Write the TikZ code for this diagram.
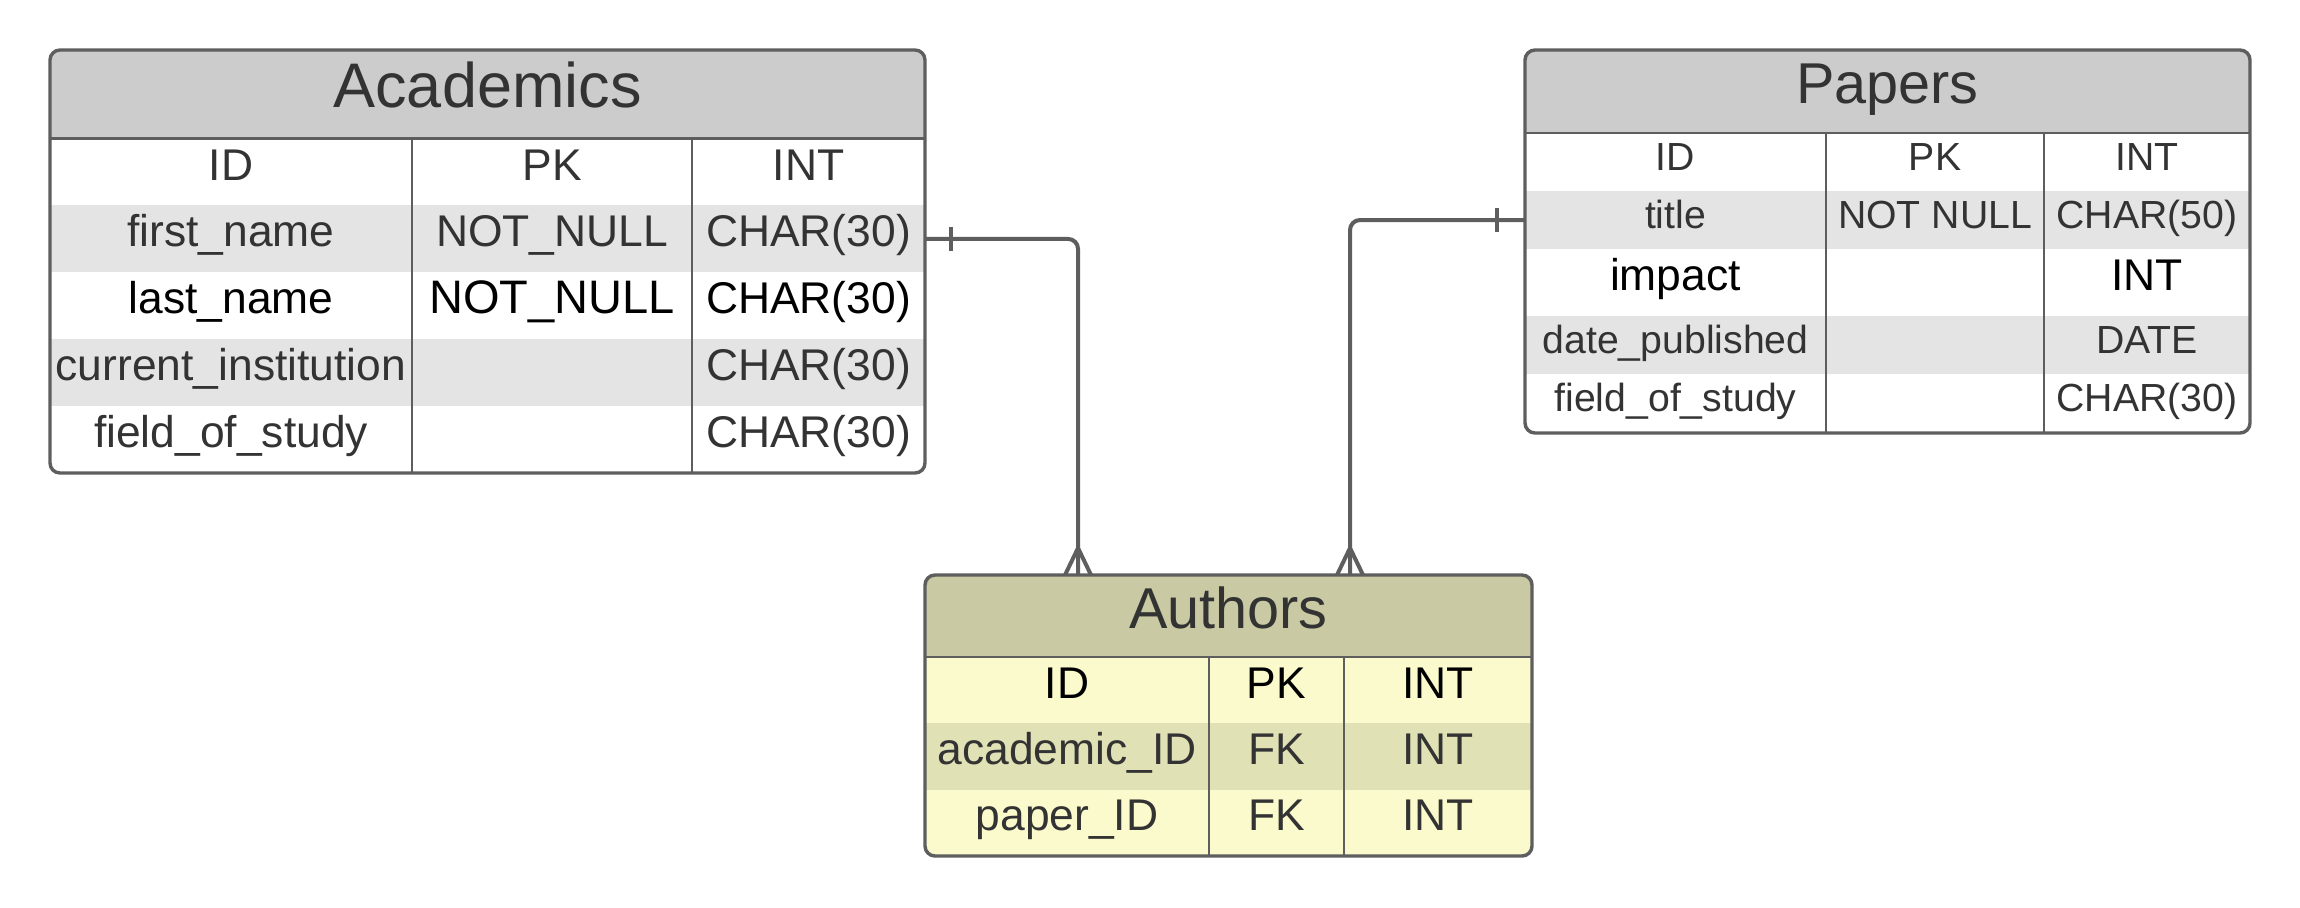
\documentclass[tikz,border=0pt]{standalone}
\usepackage{fontspec}
\setmainfont{Liberation Sans}
\usetikzlibrary{calc}

\definecolor{edge}{HTML}{5E5E5E}
\definecolor{ink}{HTML}{333333}
\definecolor{headgray}{HTML}{CCCCCC}
\definecolor{stripegray}{HTML}{E4E4E4}
\definecolor{headolive}{HTML}{C9C9A3}
\definecolor{rowyellow}{HTML}{FAFACC}
\definecolor{stripeolive}{HTML}{E1E1B6}

\begin{document}
\begin{tikzpicture}[x=0.5pt, y=-0.5pt,
  band/.style={draw=none, inner sep=0pt, outer sep=0pt},
  acarow/.style={band, minimum width=437.5pt, minimum height=33.45pt},
  autrow/.style={band, minimum width=303.5pt, minimum height=33.17pt},
  paprow/.style={band, minimum width=362.5pt},
  frame/.style={draw=edge, line width=1.7pt, rounded corners=5pt, inner sep=0pt, outer sep=0pt},
  rule/.style={draw=edge, line width=1.4pt},
  link/.style={draw=edge, line width=2pt, rounded corners=5pt},
  tick/.style={draw=edge, line width=2pt},
  ttl/.style={anchor=base, inner sep=0pt, text=ink},
  cell/.style={anchor=base, inner sep=0pt, text=ink, font=\fontsize{22.2}{26}\selectfont},
  cellk/.style={cell, text=black},
  pcell/.style={cell, font=\fontsize{19.6}{23}\selectfont},
]
\useasboundingbox (0,0) rectangle (2300,907);
\fill[white] (0,0) rectangle (2300,907);

% ---------------- Academics ----------------
\begin{scope}
  \clip[rounded corners=5pt] (50,50) rectangle (925,473);
  \node[band, fill=headgray, minimum width=437.5pt, minimum height=44.25pt] (aca-head) at (487.5,94.25) {};
  \node[acarow] (aca-r0) at (487.5,172) {};
  \node[acarow, fill=stripegray] (aca-r1) at (487.5,238.9) {};
  \node[acarow] (aca-r2) at (487.5,305.8) {};
  \node[acarow, fill=stripegray] (aca-r3) at (487.5,372.7) {};
  \node[acarow] (aca-r4) at (487.5,439.6) {};
\end{scope}
\node[frame, minimum width=437.5pt, minimum height=211.5pt] (aca) at (487.5,261.5) {};
\draw[rule] (aca-head.south west) -- (aca-head.south east);
\draw[rule] (412,138.5) -- (412,473);
\draw[rule] (692,138.5) -- (692,473);

\node[ttl, font=\fontsize{31.5}{36}\selectfont] (aca-title) at (487.5,107) {Academics};
\node[cell] (aca-n0) at (231,180) {ID};
\node[cell] (aca-k0) at (552,180) {PK};
\node[cell] (aca-t0) at (808.5,180) {INT};
\node[cell] (aca-n1) at (231,246.9) {first\_name};
\node[cell] (aca-k1) at (552,246.9) {NOT\_NULL};
\node[cell] (aca-t1) at (808.5,246.9) {CHAR(30)};
\node[cellk] (aca-n2) at (231,313.8) {last\_name};
\node[cellk, font=\fontsize{23.5}{27}\selectfont] (aca-k2) at (552,313.8) {NOT\_NULL};
\node[cellk] (aca-t2) at (808.5,313.8) {CHAR(30)};
\node[cell] (aca-n3) at (231,380.7) {current\_institution};
\node[cell] (aca-t3) at (808.5,380.7) {CHAR(30)};
\node[cell] (aca-n4) at (231,447.6) {field\_of\_study};
\node[cell] (aca-t4) at (808.5,447.6) {CHAR(30)};

% ---------------- Papers ----------------
\begin{scope}
  \clip[rounded corners=5pt] (1525,50) rectangle (2250,433);
  \node[band, fill=headgray, minimum width=362.5pt, minimum height=41.5pt] (pap-head) at (1887.5,91.5) {};
  \node[paprow, minimum height=29pt] (pap-r0) at (1887.5,162) {};
  \node[paprow, minimum height=29pt, fill=stripegray] (pap-r1) at (1887.5,220) {};
  \node[paprow, minimum height=33.5pt] (pap-r2) at (1887.5,282.5) {};
  \node[paprow, minimum height=29pt, fill=stripegray] (pap-r3) at (1887.5,345) {};
  \node[paprow, minimum height=29.5pt] (pap-r4) at (1887.5,403.5) {};
\end{scope}
\node[frame, minimum width=362.5pt, minimum height=191.5pt] (pap) at (1887.5,241.5) {};
\draw[rule] (pap-head.south west) -- (pap-head.south east);
\draw[rule] (1826,133) -- (1826,433);
\draw[rule] (2044,133) -- (2044,433);

\node[ttl, font=\fontsize{28.8}{33}\selectfont] (pap-title) at (1887.5,103) {Papers};
\node[pcell] (pap-n0) at (1675.5,170) {ID};
\node[pcell] (pap-k0) at (1935,170) {PK};
\node[pcell] (pap-t0) at (2147,170) {INT};
\node[pcell] (pap-n1) at (1675.5,228) {title};
\node[pcell] (pap-k1) at (1935,228) {NOT NULL};
\node[pcell] (pap-t1) at (2147,228) {CHAR(50)};
\node[cellk] (pap-n2) at (1675.5,290.5) {impact};
\node[cellk] (pap-t2) at (2147,290.5) {INT};
\node[pcell] (pap-n3) at (1675.5,353) {date\_published};
\node[pcell] (pap-t3) at (2147,353) {DATE};
\node[pcell] (pap-n4) at (1675.5,411.5) {field\_of\_study};
\node[pcell] (pap-t4) at (2147,411.5) {CHAR(30)};

% ---------------- Authors ----------------
\begin{scope}
  \clip[rounded corners=5pt] (925,575) rectangle (1532,856);
  \node[band, fill=headolive, minimum width=303.5pt, minimum height=41pt] (aut-head) at (1228.5,616) {};
  \node[autrow, fill=rowyellow] (aut-r0) at (1228.5,690.2) {};
  \node[autrow, fill=stripeolive] (aut-r1) at (1228.5,756.5) {};
  \node[autrow, fill=rowyellow] (aut-r2) at (1228.5,822.8) {};
\end{scope}
\node[frame, minimum width=303.5pt, minimum height=140.5pt] (aut) at (1228.5,715.5) {};
\draw[rule] (aut-head.south west) -- (aut-head.south east);
\draw[rule] (1209,657) -- (1209,856);
\draw[rule] (1344,657) -- (1344,856);

\node[ttl, font=\fontsize{28.8}{33}\selectfont] (aut-title) at (1228.5,628) {Authors};
\node[cellk] (aut-n0) at (1067,698.2) {ID};
\node[cellk] (aut-k0) at (1276.5,698.2) {PK};
\node[cellk] (aut-t0) at (1438,698.2) {INT};
\node[cell] (aut-n1) at (1067,764.5) {academic\_ID};
\node[cell] (aut-k1) at (1276.5,764.5) {FK};
\node[cell] (aut-t1) at (1438,764.5) {INT};
\node[cell] (aut-n2) at (1067,830.8) {paper\_ID};
\node[cell] (aut-k2) at (1276.5,830.8) {FK};
\node[cell] (aut-t2) at (1438,830.8) {INT};

% ---------------- Relationships ----------------
\coordinate (aut-in1) at ($(aut.north west)+(153,0)$);
\coordinate (aut-in2) at ($(aut.north west)+(425,0)$);

% Academics (one) to Authors (many)
\draw[link] (aca-r1.east) -| (aut-in1);
\draw[tick] ($(aca-r1.east)+(26,-12)$) -- ($(aca-r1.east)+(26,12)$);
\draw[tick] ($(aut-in1)+(-13,0)$) -- ($(aut-in1)+(0,-27)$) -- ($(aut-in1)+(13,0)$);

% Papers (one) to Authors (many)
\draw[link] (pap-r1.west) -| (aut-in2);
\draw[tick] ($(pap-r1.west)+(-28,-12)$) -- ($(pap-r1.west)+(-28,12)$);
\draw[tick] ($(aut-in2)+(-13,0)$) -- ($(aut-in2)+(0,-27)$) -- ($(aut-in2)+(13,0)$);
\end{tikzpicture}
\end{document}
